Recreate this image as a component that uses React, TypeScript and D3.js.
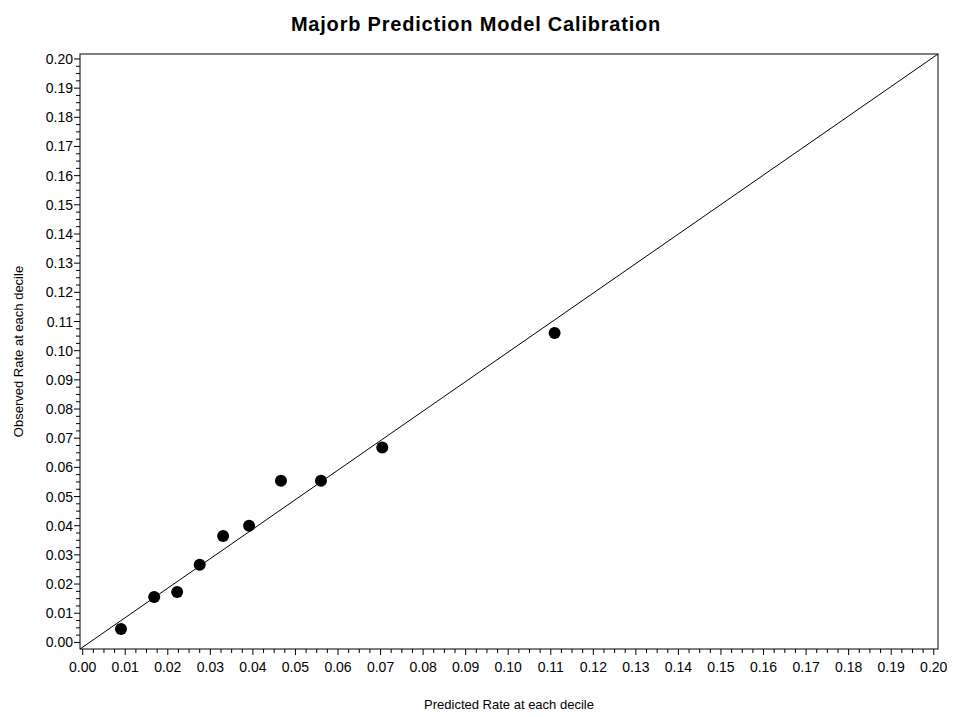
import React from "react";
import * as d3 from "d3";

const predicted = [0.009, 0.0168, 0.0222, 0.0275, 0.033, 0.0391, 0.0466, 0.056, 0.0704, 0.1109];
const observed = [0.0046, 0.0156, 0.0173, 0.0266, 0.0365, 0.04, 0.0554, 0.0554, 0.0668, 0.1061];
const majorTicks = d3.range(0, 21).map((i) => i / 100);
const minorTicks = d3.range(0, 81).map((i) => i / 400).filter((_, i) => i % 4 !== 0);

const W = 954;
const H = 717;
const left = 80, right = 938, top = 54, bottom = 649;
const font = "'Liberation Sans', Arial, Helvetica, sans-serif";

export default function App() {
  const x = d3.scaleLinear().domain([-0.00063, 0.2010]).range([left, right]);
  const y = d3.scaleLinear().domain([-0.00226, 0.2017]).range([bottom, top]);
  const fmt = d3.format(".2f");
  return (
    <svg width={W} height={H} style={{ position: "absolute", left: 0, top: 0, background: "#fff" }} fontFamily={font}>
      <text x={476} y={31} textAnchor="middle" fontSize={20} fontWeight="bold" letterSpacing={0.8}>Majorb Prediction Model Calibration</text>
      <rect x={left} y={top} width={right - left} height={bottom - top} fill="none" stroke="#000" strokeWidth={1} />
      <line x1={x(x.domain()[0])} y1={y(y.domain()[0])} x2={x(x.domain()[1])} y2={y(y.domain()[1])} stroke="#000" strokeWidth={1} />
      {majorTicks.map((t) => (
        <g key={"x" + t}>
          <line x1={x(t)} x2={x(t)} y1={bottom} y2={bottom + 6} stroke="#000" />
          <text x={x(t)} y={bottom + 23} textAnchor="middle" fontSize={14}>{fmt(t)}</text>
        </g>
      ))}
      {minorTicks.map((t) => (
        <line key={"xm" + t} x1={x(t)} x2={x(t)} y1={bottom} y2={bottom + 4} stroke="#000" />
      ))}
      {majorTicks.map((t) => (
        <g key={"y" + t}>
          <line x1={left} x2={left - 6} y1={y(t)} y2={y(t)} stroke="#000" />
          <text x={left - 7} y={y(t) + 5} textAnchor="end" fontSize={14}>{fmt(t)}</text>
        </g>
      ))}
      {minorTicks.map((t) => (
        <line key={"ym" + t} x1={left} x2={left - 4} y1={y(t)} y2={y(t)} stroke="#000" />
      ))}
      {predicted.map((p, i) => (
        <circle key={i} cx={x(p)} cy={y(observed[i])} r={6} fill="#000" />
      ))}
      <text x={(left + right) / 2} y={709} textAnchor="middle" fontSize={13}>Predicted Rate at each decile</text>
      <text transform={`translate(23,${(top + bottom) / 2}) rotate(-90)`} textAnchor="middle" fontSize={13}>Observed Rate at each decile</text>
    </svg>
  );
}
